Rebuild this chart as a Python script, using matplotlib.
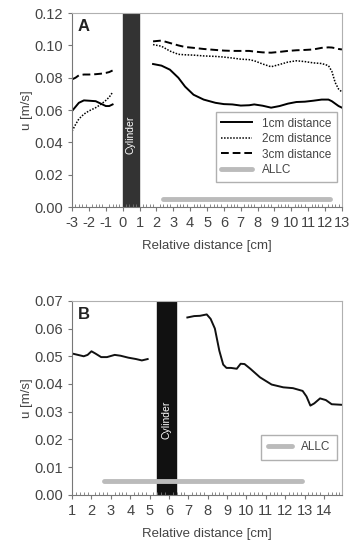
import matplotlib
matplotlib.use("Agg")
import matplotlib.pyplot as plt
from matplotlib.ticker import AutoMinorLocator, MultipleLocator

plt.rcParams['font.family'] = ['Liberation Sans', 'DejaVu Sans']
plt.rcParams['font.size'] = 9
plt.rcParams['axes.unicode_minus'] = False
TXT = '#444444'

# ---- panel A data ----
a_left_x = [-3.0, -2.8, -2.6, -2.3, -2.0, -1.6, -1.3, -1.0, -0.8, -0.6]
a1_left = [0.0595, 0.0620, 0.0645, 0.0660, 0.0658, 0.0655, 0.0640, 0.0625, 0.0625, 0.0635]
a2_left = [0.0470, 0.0510, 0.0545, 0.0575, 0.0595, 0.0615, 0.0635, 0.0660, 0.0680, 0.0710]
a3_left = [0.0790, 0.0800, 0.0815, 0.0820, 0.0820, 0.0822, 0.0825, 0.0830, 0.0835, 0.0845]

a_right_x = [1.8, 2.3, 2.8, 3.3, 3.7, 4.2, 4.8, 5.5, 6.0, 6.5, 7.0, 7.5, 7.8,
             8.3, 8.8, 9.3, 9.8, 10.3, 10.8, 11.3, 11.8, 12.2, 12.4, 12.6, 12.8, 13.0]
a1_right = [0.0885, 0.0875, 0.0850, 0.0800, 0.0745, 0.0695, 0.0665, 0.0645, 0.0637, 0.0635,
            0.0628, 0.0630, 0.0635, 0.0627, 0.0615, 0.0625, 0.0640, 0.0650, 0.0652, 0.0658,
            0.0665, 0.0665, 0.0655, 0.0640, 0.0625, 0.0615]
a2_right = [0.1005, 0.0995, 0.0965, 0.0945, 0.0942, 0.0940, 0.0935, 0.0932, 0.0928, 0.0922,
            0.0915, 0.0912, 0.0905, 0.0885, 0.0868, 0.0882, 0.0897, 0.0905, 0.0900, 0.0892,
            0.0888, 0.0875, 0.0840, 0.0770, 0.0730, 0.0712]
a3_right = [0.1025, 0.1030, 0.1015, 0.1000, 0.0990, 0.0985, 0.0978, 0.0972, 0.0968, 0.0966,
            0.0966, 0.0966, 0.0962, 0.0957, 0.0955, 0.0960, 0.0966, 0.0970, 0.0972, 0.0975,
            0.0985, 0.0988, 0.0987, 0.0983, 0.0978, 0.0975]

a_allc = [2.4, 12.3]
a_cyl = [0.0, 0.95]

# ---- panel B data ----
b_left_x = [1.0, 1.3, 1.6, 1.8, 2.0, 2.2, 2.5, 2.8, 3.2, 3.5, 3.9, 4.3, 4.6, 4.9]
b_left = [0.0510, 0.0505, 0.0500, 0.0505, 0.0518, 0.0510, 0.0497, 0.0497, 0.0505, 0.0502,
          0.0495, 0.0490, 0.0485, 0.0490]
b_right_x = [6.95, 7.3, 7.6, 7.95, 8.15, 8.37, 8.6, 8.8, 8.97, 9.2, 9.5, 9.7, 9.9, 10.2,
             10.7, 11.3, 11.9, 12.4, 12.9, 13.1, 13.3, 13.5, 13.8, 14.1, 14.4, 14.9]
b_right = [0.0640, 0.0645, 0.0646, 0.0651, 0.0635, 0.0600, 0.0520, 0.0470, 0.0458, 0.0458,
           0.0455, 0.0473, 0.0472, 0.0455, 0.0424, 0.0398, 0.0388, 0.0385, 0.0375, 0.0355,
           0.0322, 0.0330, 0.0348, 0.0342, 0.0327, 0.0325]
b_allc = [2.65, 12.85]
b_cyl = [5.37, 6.36]


def style_axes(ax):
    for s in ['top', 'right']:
        ax.spines[s].set_color('#b0b0b0')
    for s in ['left', 'bottom']:
        ax.spines[s].set_color('#777777')
    ax.xaxis.set_minor_locator(AutoMinorLocator(5))
    ax.tick_params(axis='both', which='major', colors='#777777', labelcolor=TXT,
                   length=3, labelsize=10.5)
    ax.tick_params(axis='x', which='minor', colors='#777777', length=2, direction='in')
    ax.set_xlabel('Relative distance [cm]', color=TXT, fontsize=9.5, labelpad=7)
    ax.set_ylabel('u [m/s]', color=TXT, fontsize=9.5, labelpad=1)


fig = plt.figure(figsize=(3.5, 5.45), dpi=100)
axA = fig.add_axes([0.206, 0.620, 0.771, 0.356])
axB = fig.add_axes([0.206, 0.092, 0.771, 0.356])

# panel A
axA.axvspan(a_cyl[0], a_cyl[1], color='#333333', zorder=1)
axA.text(sum(a_cyl) / 2, 0.045, 'Cylinder', rotation=90, color='white',
         ha='center', va='center', fontsize=7.5)
axA.plot(a_left_x, a1_left, color='black', lw=1.4, label='1cm distance')
axA.plot(a_left_x, a2_left, color='black', lw=1.1, ls=(0, (1, 1)), label='2cm distance')
axA.plot(a_left_x, a3_left, color='black', lw=1.4, ls=(0, (4, 2)), label='3cm distance')
axA.plot(a_right_x, a1_right, color='black', lw=1.4)
axA.plot(a_right_x, a2_right, color='black', lw=1.1, ls=(0, (1, 1)))
axA.plot(a_right_x, a3_right, color='black', lw=1.4, ls=(0, (4, 2)))
axA.plot(a_allc, [0.005, 0.005], color='#bbbbbb', lw=3.5, solid_capstyle='round', label='ALLC')
axA.set_xlim(-3, 13)
axA.set_ylim(0, 0.12)
axA.xaxis.set_major_locator(MultipleLocator(1))
axA.yaxis.set_major_locator(MultipleLocator(0.02))
axA.yaxis.set_major_formatter(lambda v, p: f'{v:.2f}')
style_axes(axA)
axA.text(0.02, 0.97, 'A', transform=axA.transAxes, fontsize=12, fontweight='bold',
         va='top', ha='left', color='#222222')
legA = axA.legend(loc='lower right', bbox_to_anchor=(0.981, 0.129), fancybox=False,
                  edgecolor='#b0b0b0', fontsize=8.5, handlelength=2.6, labelspacing=0.3,
                  borderpad=0.5, borderaxespad=0, framealpha=1)
for t in legA.get_texts():
    t.set_color(TXT)

# panel B
axB.axvspan(b_cyl[0], b_cyl[1], color='#111111', zorder=1)
axB.text(sum(b_cyl) / 2, 0.027, 'Cylinder', rotation=90, color='white',
         ha='center', va='center', fontsize=7.5)
axB.plot(b_left_x, b_left, color='#111111', lw=1.4)
axB.plot(b_right_x, b_right, color='#111111', lw=1.4)
axB.plot(b_allc, [0.005, 0.005], color='#bbbbbb', lw=3.5, solid_capstyle='round', label='ALLC')
axB.set_xlim(1, 14.93)
axB.set_ylim(0, 0.07)
axB.xaxis.set_major_locator(MultipleLocator(1))
axB.yaxis.set_major_locator(MultipleLocator(0.01))
axB.yaxis.set_major_formatter(lambda v, p: f'{v:.2f}')
style_axes(axB)
axB.text(0.02, 0.97, 'B', transform=axB.transAxes, fontsize=12, fontweight='bold',
         va='top', ha='left', color='#222222')
legB = axB.legend(loc='lower right', bbox_to_anchor=(0.981, 0.18), fancybox=False,
                  edgecolor='#b0b0b0', fontsize=8.5, handlelength=2.0,
                  borderpad=0.55, borderaxespad=0, framealpha=1)
for t in legB.get_texts():
    t.set_color(TXT)

fig.savefig('out.png', dpi=100)
